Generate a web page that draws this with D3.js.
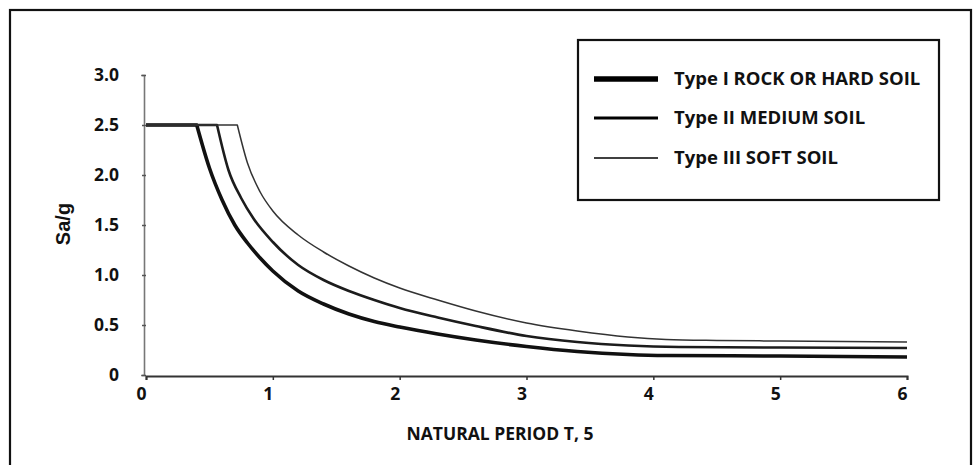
<!DOCTYPE html>
<html>
<head>
<meta charset="utf-8">
<script src="https://cdn.jsdelivr.net/npm/d3@7.9.0/dist/d3.min.js"></script>
<style>
  body { margin: 0; background: #fff; }
  svg { display: block; }
  text { font-family: "Open Sans", sans-serif; font-weight: bold; fill: #111; }
</style>
</head>
<body>
<div id="chart"></div>
<script>
// values (T in seconds, Sa/g)
const rockSoil = [
  [0, 2.5], [0.4, 2.5], [0.5, 2.07], [0.6, 1.75], [0.7, 1.5], [0.8, 1.32], [0.9, 1.17],
  [1.0, 1.04], [1.2, 0.84], [1.4, 0.71], [1.6, 0.61], [1.8, 0.535], [2.0, 0.48],
  [2.3, 0.41], [2.6, 0.35], [3.0, 0.285], [3.4, 0.235], [3.8, 0.205], [4.1, 0.195],
  [5.0, 0.19], [6.0, 0.18]
];
const mediumSoil = [
  [0, 2.5], [0.56, 2.5], [0.65, 2.05], [0.75, 1.77], [0.85, 1.56], [1.0, 1.33],
  [1.2, 1.1], [1.4, 0.95], [1.6, 0.84], [1.8, 0.75], [2.0, 0.67], [2.3, 0.575],
  [2.6, 0.49], [3.0, 0.39], [3.4, 0.33], [3.8, 0.295], [4.2, 0.28], [5.0, 0.275], [6.0, 0.27]
];
const softSoil = [
  [0, 2.5], [0.72, 2.5], [0.8, 2.12], [0.9, 1.83], [1.0, 1.64], [1.2, 1.4],
  [1.4, 1.23], [1.6, 1.09], [1.8, 0.97], [2.0, 0.87], [2.3, 0.75], [2.6, 0.64],
  [3.0, 0.52], [3.4, 0.44], [3.8, 0.38], [4.1, 0.355], [4.5, 0.345], [5.0, 0.34], [6.0, 0.33]
];

const seriesNames = ['Type I ROCK OR HARD SOIL', 'Type II MEDIUM SOIL', 'Type III SOFT SOIL'];
const xTicks = [0, 1, 2, 3, 4, 5, 6];
const yTicks = [0, 0.5, 1.0, 1.5, 2.0, 2.5, 3.0];
const yTickLabels = ['0', '0.5', '1.0', '1.5', '2.0', '2.5', '3.0'];
const xTitle = 'NATURAL PERIOD T, 5';
const yTitle = 'Sa/g';

const width = 974;
const height = 465;

const svg = d3.select('#chart')
  .append('svg')
  .attr('width', width)
  .attr('height', height);

// outer frame (bottom edge runs off the picture)
svg.append('rect')
  .attr('x', 10).attr('y', 10)
  .attr('width', 961).attr('height', 480)
  .attr('fill', 'none')
  .attr('stroke', '#111')
  .attr('stroke-width', 2.2);

const x = d3.scaleLinear().domain([0, 6]).range([146, 907]);
const y = d3.scaleLinear().domain([0, 3]).range([375, 75]);

// y axis
const yAxis = svg.append('g')
  .attr('transform', `translate(${x(0) - 2},0)`)
  .call(d3.axisLeft(y).tickValues(yTicks).tickSize(3).tickPadding(22)
    .tickFormat((d, i) => yTickLabels[i]));
yAxis.select('.domain').attr('stroke', '#777').attr('stroke-width', 1.6);
yAxis.selectAll('.tick line').attr('stroke', '#555').attr('stroke-width', 1.5).attr('x2', 2).attr('x1', -2);
yAxis.selectAll('.tick text').attr('font-size', 17.5).attr('font-family', '"Open Sans", sans-serif')
  .attr('font-weight', 'bold').attr('fill', '#111');

// x axis
const xAxis = svg.append('g')
  .attr('transform', `translate(0,${y(0) + 1})`)
  .call(d3.axisBottom(x).tickValues(xTicks).tickSize(4).tickPadding(8).tickFormat(d3.format('d')));
xAxis.select('.domain').attr('stroke', '#333').attr('stroke-width', 2);
xAxis.selectAll('.tick line').attr('stroke', '#333').attr('stroke-width', 1.5);
xAxis.selectAll('.tick text').attr('font-size', 17.5).attr('font-family', '"Open Sans", sans-serif')
  .attr('font-weight', 'bold').attr('fill', '#111').attr('dx', -5);

// axis titles
svg.append('text')
  .attr('x', 500).attr('y', 440)
  .attr('text-anchor', 'middle')
  .attr('font-size', 17.5)
  .text(xTitle);

svg.append('text')
  .attr('transform', 'translate(70,224) rotate(-90)')
  .attr('text-anchor', 'middle')
  .style('font-family', '"Liberation Sans", Arial, sans-serif')
  .attr('font-size', 20)
  .text(yTitle);

// curves: flat plateau drawn straight, descending branch smoothed
const flat = d3.line().x(d => x(d[0])).y(d => y(d[1]));
const smooth = d3.line().x(d => x(d[0])).y(d => y(d[1])).curve(d3.curveMonotoneX);

function spectrumPath(pts) {
  return flat(pts.slice(0, 2)) + smooth(pts.slice(1)).replace(/^M/, 'L');
}

const series = [
  { name: seriesNames[0], pts: rockSoil, w: 3.6, c: '#111', lw: 5.5 },
  { name: seriesNames[1], pts: mediumSoil, w: 2.6, c: '#1c1c1c', lw: 3 },
  { name: seriesNames[2], pts: softSoil, w: 1.5, c: '#333', lw: 1.3 }
];

svg.append('g')
  .selectAll('path')
  .data(series)
  .join('path')
  .attr('d', d => spectrumPath(d.pts))
  .attr('fill', 'none')
  .attr('stroke', d => d.c)
  .attr('stroke-width', d => d.w)
  .attr('stroke-linejoin', 'round');

// legend
const legend = svg.append('g');
legend.append('rect')
  .attr('x', 578).attr('y', 40)
  .attr('width', 361).attr('height', 160)
  .attr('fill', '#fff')
  .attr('stroke', '#111')
  .attr('stroke-width', 2.2);

const rowY = [79, 118, 158];
const items = legend.selectAll('g.item')
  .data(series)
  .join('g')
  .attr('class', 'item')
  .attr('transform', (d, i) => `translate(0,${rowY[i]})`);

items.append('line')
  .attr('x1', 594).attr('x2', 658)
  .attr('stroke', '#000')
  .attr('stroke-width', d => d.lw);

items.append('text')
  .attr('x', 674)
  .attr('dy', '0.35em')
  .attr('font-size', 18.5)
  .text(d => d.name);
</script>
</body>
</html>
